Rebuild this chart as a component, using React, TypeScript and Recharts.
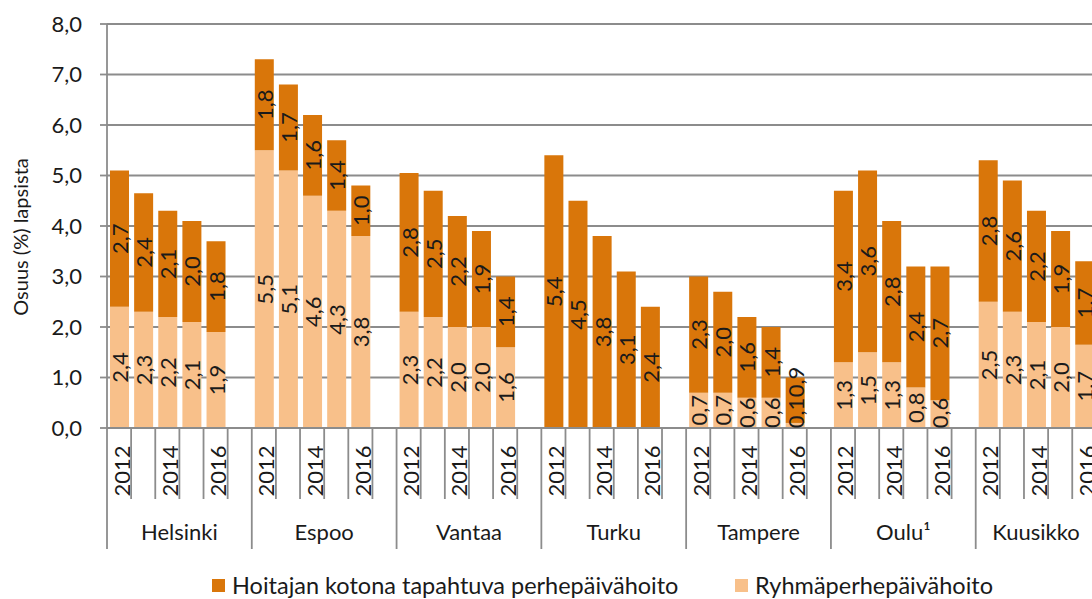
import { Bar, BarChart, CartesianGrid, LabelList, XAxis, YAxis } from 'recharts';

const cities = ['Helsinki', 'Espoo', 'Vantaa', 'Turku', 'Tampere', 'Oulu¹', 'Kuusikko'];
const years = ['2012', '2013', '2014', '2015', '2016'];
const shownYears = ['2012', '2014', '2016'];

// Ryhmäperhepäivähoito (bottom of stack), one row per city
const ryhma = [
  [2.4, 2.3, 2.2, 2.1, 1.9],
  [5.5, 5.1, 4.6, 4.3, 3.8],
  [2.3, 2.2, 2.0, 2.0, 1.6],
  [0, 0, 0, 0, 0],
  [0.7, 0.7, 0.6, 0.6, 0.1],
  [1.3, 1.5, 1.3, 0.8, 0.55],
  [2.5, 2.3, 2.1, 2.0, 1.65],
];

// Hoitajan kotona tapahtuva perhepäivähoito (top of stack)
const kotona = [
  [2.7, 2.35, 2.1, 2.0, 1.8],
  [1.8, 1.7, 1.6, 1.4, 1.0],
  [2.75, 2.5, 2.2, 1.9, 1.4],
  [5.4, 4.5, 3.8, 3.1, 2.4],
  [2.3, 2.0, 1.6, 1.4, 0.9],
  [3.4, 3.6, 2.8, 2.4, 2.65],
  [2.8, 2.6, 2.2, 1.9, 1.65],
];

const yTicks = [0, 1, 2, 3, 4, 5, 6, 7, 8];

const DARK = '#D9760A';
const LIGHT = '#F8C08A';
const GRID = '#8c8c8c';
const INK = '#1a1a1a';
const FONT = 'Lato, "Liberation Sans", sans-serif';

const CHART_W = 1140;
const CHART_H = 599;
const VISIBLE_W = 1092;
const MARGIN = { top: 24, right: 19.5, bottom: 0, left: 0 };
const Y_AXIS_W = 107;
const PLOT_LEFT = MARGIN.left + Y_AXIS_W;
const LABEL_LEN = 30; // approx length of a rotated "0,0" label

type Row = {
  key: string;
  city: number;
  year: string | null;
  ryhma: number | null;
  kotona: number | null;
};

// each city: five years plus an empty slot as a gap
const data: Row[] = cities.flatMap((_, ci) => [
  ...years.map((yr, yi) => ({
    key: `${ci}-${yr}`,
    city: ci,
    year: yr,
    ryhma: ryhma[ci][yi],
    kotona: kotona[ci][yi],
  })),
  { key: `${ci}-gap`, city: ci, year: null, ryhma: null, kotona: null },
]);

const SLOT = (CHART_W - MARGIN.left - MARGIN.right - Y_AXIS_W) / data.length;

const fmt = (v: number) => (Math.round(v * 10 + 1e-6) / 10).toFixed(1).replace('.', ',');

function XTick(props: any) {
  const { x, y, payload } = props;
  const i = payload.index as number;
  const row = data[i];
  const posInCity = i % 6;
  const left = x - SLOT / 2;
  const name = cities[row.city];
  // keep the city name inside the visible area, like the original does
  const nameX = Math.min(left, VISIBLE_W - 14 - (name.length * 10.5) / 2);
  return (
    <g>
      <line
        x1={left}
        x2={left}
        y1={y}
        y2={y + (posInCity === 0 ? 121 : 71)}
        stroke={GRID}
        strokeWidth={1.8}
      />
      {row.year && shownYears.includes(row.year) && (
        <text
          x={x + 2}
          y={y + 43}
          transform={`rotate(-90, ${x + 2}, ${y + 43})`}
          textAnchor="middle"
          dominantBaseline="central"
          fontSize={22}
          fontFamily={FONT}
          fill={INK}
        >
          {row.year}
        </text>
      )}
      {posInCity === 3 && (
        <text x={nameX} y={y + 112} textAnchor="middle" fontSize={22} fontFamily={FONT} fill={INK}>
          {name}
        </text>
      )}
    </g>
  );
}

function RotatedLabel({ cx, cy, value }: { cx: number; cy: number; value: number }) {
  return (
    <text
      x={cx}
      y={cy}
      transform={`rotate(-90, ${cx}, ${cy})`}
      textAnchor="middle"
      dominantBaseline="central"
      fontSize={22}
      fontFamily={FONT}
      fill={INK}
    >
      {fmt(value)}
    </text>
  );
}

// lower segment: centred, but never below the bar base
function LowerLabel(props: any) {
  const { x, y, width, height, value } = props;
  if (value == null || value === 0) return null;
  const base = y + height;
  const cy = Math.min(y + height / 2, base - LABEL_LEN / 2);
  return <RotatedLabel cx={x + width / 2} cy={cy} value={value} />;
}

// upper segment: centred, pushed up if it would collide with the lower label
function UpperLabel(props: any) {
  const { x, y, width, height, value } = props;
  if (value == null || value === 0) return null;
  const idx = Math.floor((x + width / 2 - PLOT_LEFT) / SLOT);
  const lower = data[idx]?.ryhma ?? 0;
  let cy = y + height / 2;
  if (lower > 0) {
    const pxPerUnit = height / value;
    const base = y + height + lower * pxPerUnit;
    const lowerCy = Math.min(base - (lower * pxPerUnit) / 2, base - LABEL_LEN / 2);
    const lowerTop = lowerCy - LABEL_LEN / 2;
    cy = Math.min(cy, lowerTop - LABEL_LEN / 2 - 1);
  }
  return <RotatedLabel cx={x + width / 2} cy={cy} value={value} />;
}

function LegendSwatch({ color, label, left }: { color: string; label: string; left: number }) {
  return (
    <div
      style={{
        position: 'absolute',
        left,
        top: 571,
        display: 'flex',
        alignItems: 'center',
        fontFamily: FONT,
        fontSize: 23.5,
        color: INK,
        whiteSpace: 'nowrap',
      }}
    >
      <span style={{ width: 13, height: 13, background: color, marginRight: 7, display: 'inline-block' }} />
      {label}
    </div>
  );
}

export default function App() {
  return (
    <div
      style={{
        position: 'fixed',
        left: 0,
        top: 0,
        width: VISIBLE_W,
        height: 599,
        overflow: 'hidden',
        background: '#fff',
      }}
    >
      <BarChart width={CHART_W} height={CHART_H} data={data} margin={MARGIN} barSize={19}>
        <CartesianGrid vertical={false} stroke={GRID} strokeWidth={1.8} />
        <XAxis
          dataKey="key"
          interval={0}
          height={171}
          tickLine={false}
          tickSize={0}
          tickMargin={0}
          axisLine={{ stroke: GRID, strokeWidth: 1.8 }}
          tick={<XTick />}
        />
        <YAxis
          width={Y_AXIS_W}
          domain={[0, 8]}
          ticks={yTicks}
          tickSize={7}
          tickMargin={18}
          tickLine={{ stroke: GRID, strokeWidth: 1.8 }}
          axisLine={{ stroke: GRID, strokeWidth: 1.8 }}
          tick={{ fontSize: 22, fontFamily: FONT, fill: INK }}
          tickFormatter={(v: number) => v.toFixed(1).replace('.', ',')}
          label={{
            content: () => (
              <text
                x={20}
                y={237}
                transform="rotate(-90, 20, 237)"
                textAnchor="middle"
                dominantBaseline="central"
                fontSize={20}
                fontFamily={FONT}
                fill={INK}
              >
                Osuus (%) lapsista
              </text>
            ),
          }}
        />
        <Bar dataKey="ryhma" stackId="a" fill={LIGHT} isAnimationActive={false}>
          <LabelList dataKey="ryhma" content={<LowerLabel />} />
        </Bar>
        <Bar dataKey="kotona" stackId="a" fill={DARK} isAnimationActive={false}>
          <LabelList dataKey="kotona" content={<UpperLabel />} />
        </Bar>
      </BarChart>
      <LegendSwatch color={DARK} label="Hoitajan kotona tapahtuva perhepäivähoito" left={212} />
      <LegendSwatch color={LIGHT} label="Ryhmäperhepäivähoito" left={735} />
    </div>
  );
}
